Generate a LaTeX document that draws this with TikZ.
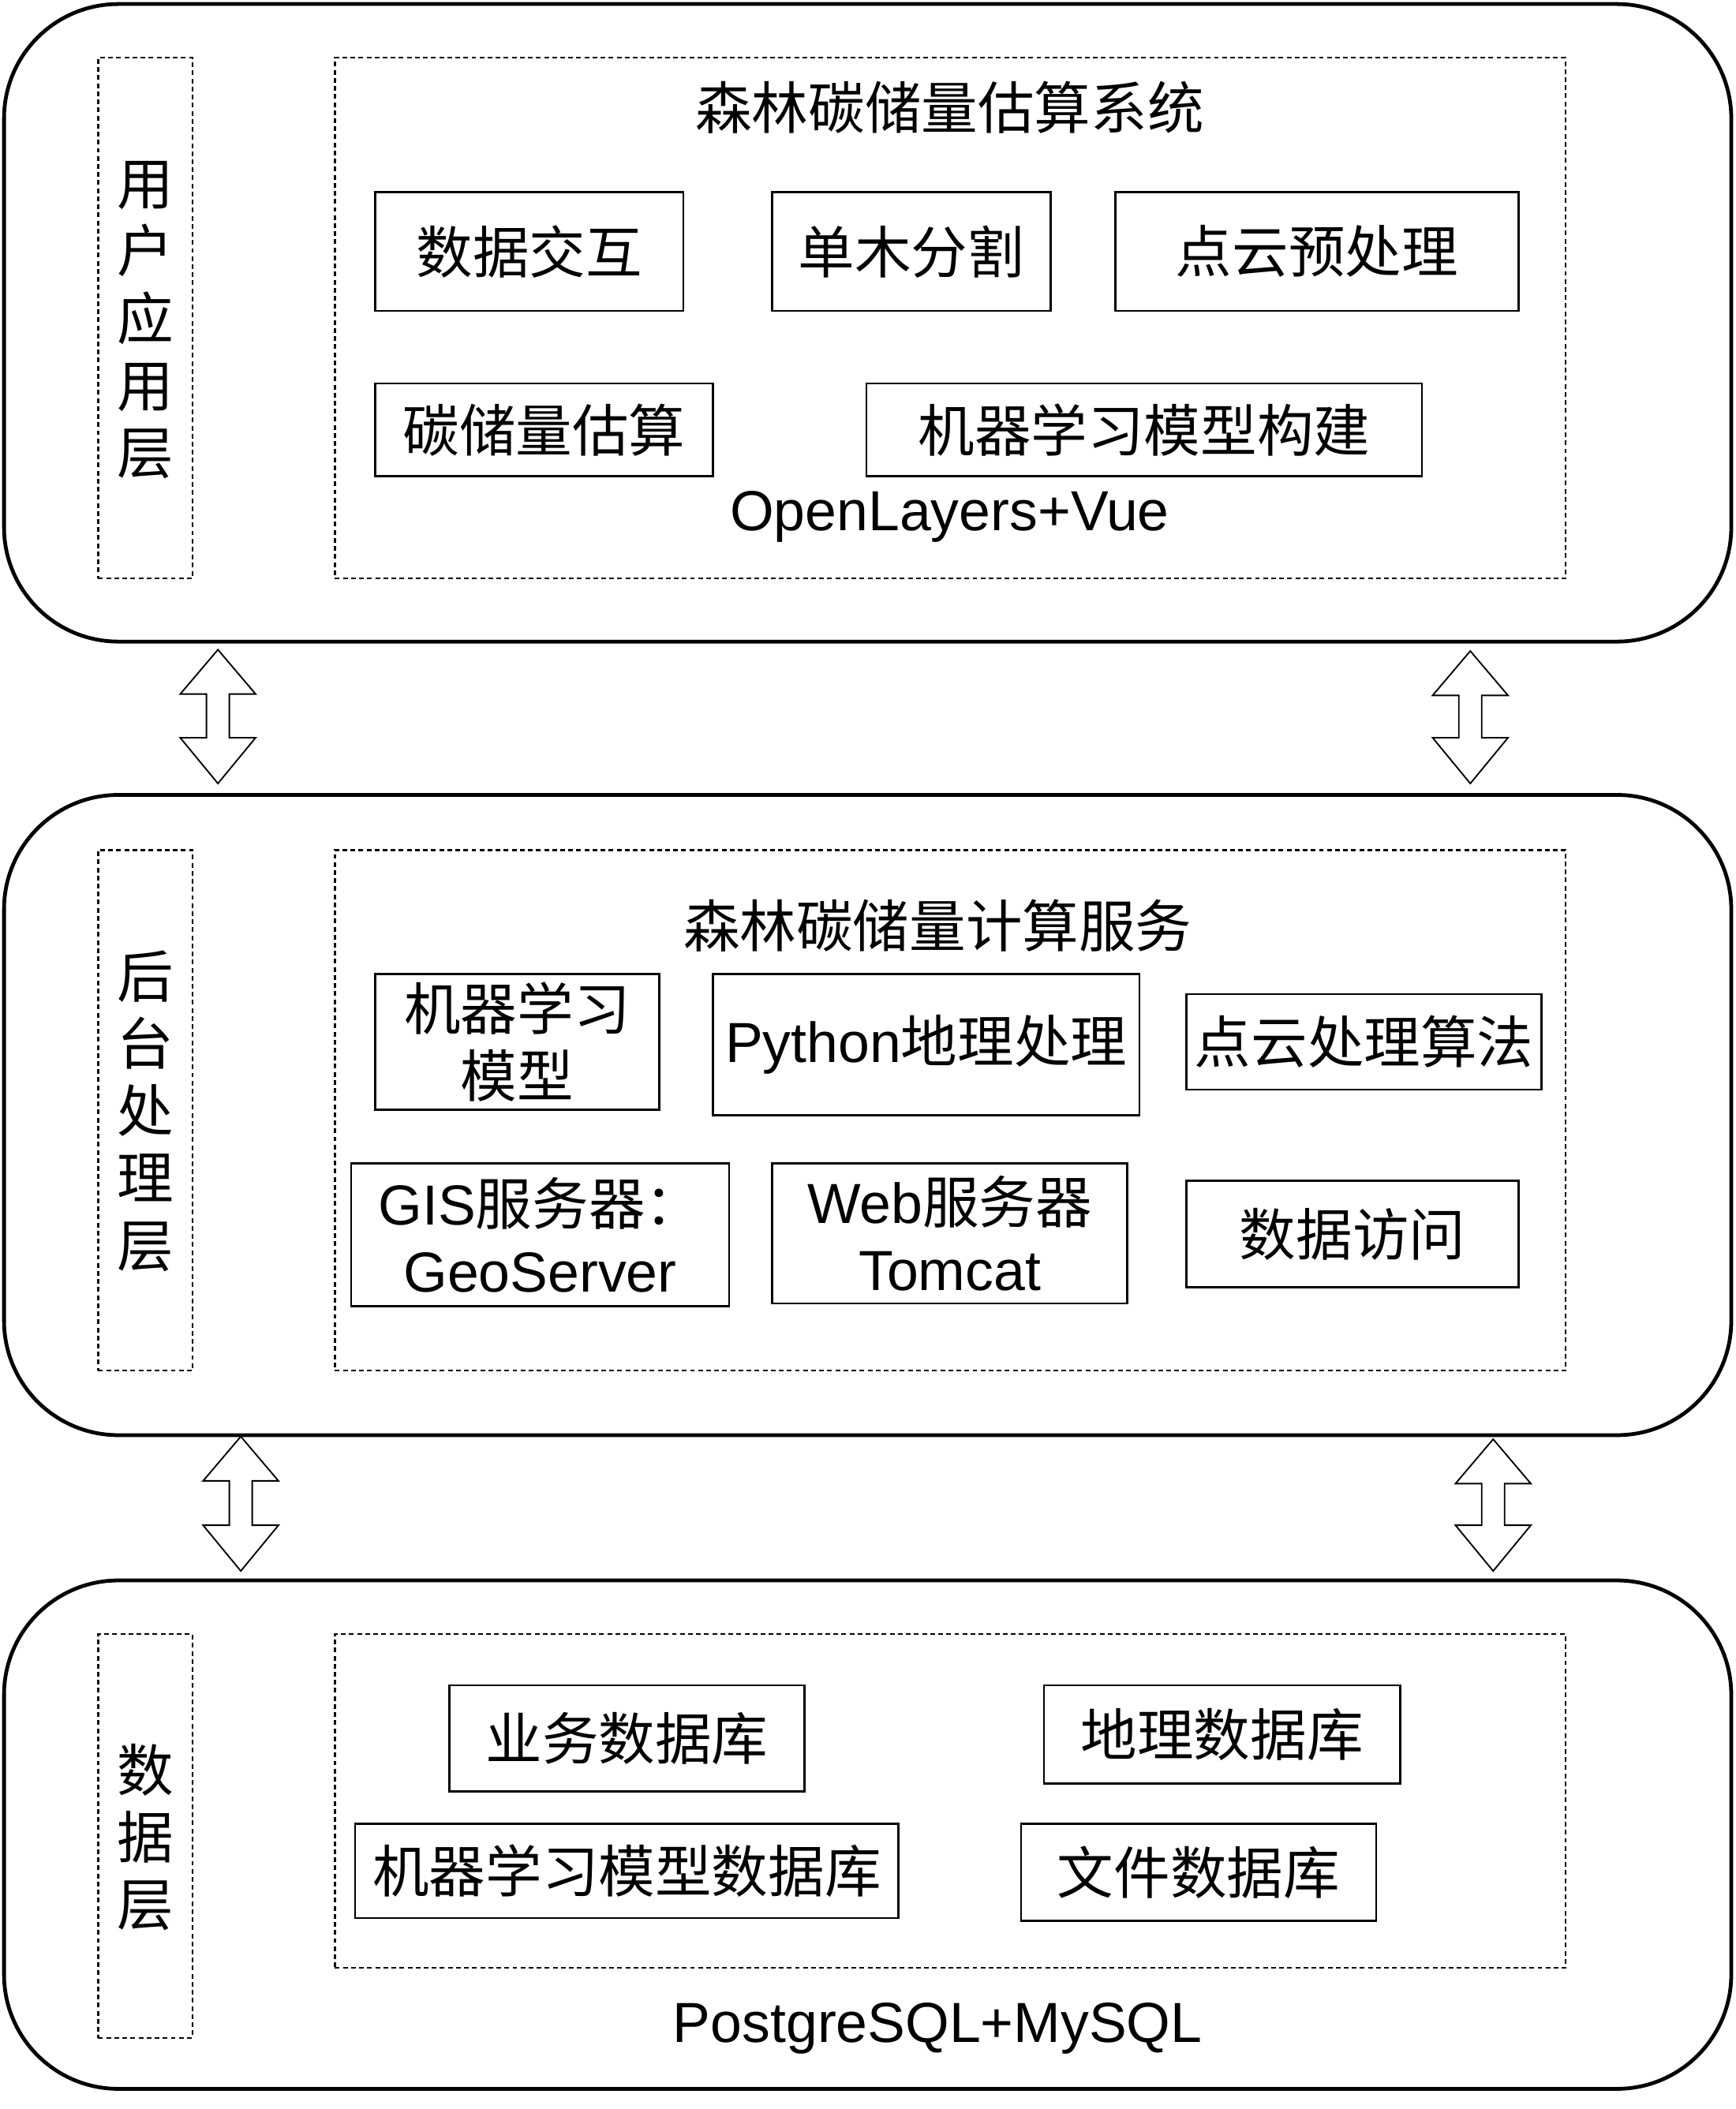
\documentclass[tikz,border=0pt]{standalone}
\usepackage{fontspec}
\setmainfont{Noto Sans CJK SC}
\newfontfamily\lat{Liberation Sans}
\begin{document}
\begin{tikzpicture}[x=1pt,y=-1pt,
  layer/.style={draw, line width=2.8pt, rounded corners=85pt, inner sep=0},
  dbox/.style={draw, dash pattern=on 3.5pt off 2.5pt, line width=1.3pt, inner sep=0},
  box/.style={draw, line width=1.5pt, inner sep=0, align=center, font=\fontsize{42}{50}\selectfont},
  txt/.style={inner sep=0, align=center, font=\fontsize{42}{50}\selectfont},
  harrow/.style={draw, line width=1.1pt, fill=white, line join=miter}]
\useasboundingbox (0,0) rectangle (1290,1568);
\newcommand\dblarrow[3]{%
  \draw[harrow] (#1,#2) -- (#1+28,#2+33) -- (#1+8.5,#2+33) -- (#1+8.5,#3-34) -- (#1+28,#3-34) -- (#1,#3)
   -- (#1-28,#3-34) -- (#1-8.5,#3-34) -- (#1-8.5,#2+33) -- (#1-28,#2+33) -- cycle;}

% ---------- layer 1
\node[layer, minimum width=1284, minimum height=474] (L1) at (645,240) {};
\node[dbox, minimum width=70, minimum height=387] (S1) at (108,236.5) {};
\node[txt] (S1t) at (108,238) {用\\户\\应\\用\\层};
\node[dbox, minimum width=915, minimum height=387] (I1) at (706.5,236.5) {};
\node[txt] (T1) at (706,80) {森林碳储量估算系统};
\node[box, minimum width=229, minimum height=88] (a1) at (393.5,187) {数据交互};
\node[box, minimum width=207, minimum height=88] (a2) at (677.5,187) {单木分割};
\node[box, minimum width=300, minimum height=88] (a3) at (979,187) {点云预处理};
\node[box, minimum width=251, minimum height=69] (a4) at (404.5,319.5) {碳储量估算};
\node[box, minimum width=413, minimum height=69] (a5) at (850.5,319.5) {机器学习模型构建};
\node[txt] (F1) at (706,384) {\lat OpenLayers+Vue};

% ---------- layer 2
\node[layer, minimum width=1284, minimum height=476] (L2) at (645,829) {};
\node[dbox, minimum width=70, minimum height=387] (S2) at (108,825.5) {};
\node[txt] (S2t) at (108,826) {后\\台\\处\\理\\层};
\node[dbox, minimum width=915, minimum height=387] (I2) at (706.5,825.5) {};
\node[txt] (T2) at (697,688) {森林碳储量计算服务};
\node[box, minimum width=211, minimum height=101] (b1) at (384.5,774.5) {机器学习\\模型};
\node[box, minimum width=317, minimum height=105] (b2) at (688.5,776.5) {{\lat Python}地理处理};
\node[box, minimum width=264, minimum height=71] (b3) at (1014,774.5) {点云处理算法};
\node[box, minimum width=281, minimum height=106] (b4) at (401.5,918) {{\lat GIS}服务器：\\{\lat GeoServer}};
\node[box, minimum width=264, minimum height=104] (b5) at (706,917) {{\lat Web}服务器\\{\lat Tomcat}};
\node[box, minimum width=247, minimum height=79] (b6) at (1005.5,917.5) {数据访问};

% ---------- layer 3
\node[layer, minimum width=1284, minimum height=378] (L3) at (645,1364) {};
\node[dbox, minimum width=70, minimum height=300] (S3) at (108,1365) {};
\node[txt] (S3t) at (108,1366) {数\\据\\层};
\node[dbox, minimum width=915, minimum height=248] (I3) at (706.5,1339) {};
\node[box, minimum width=264, minimum height=79] (c1) at (466,1292.5) {业务数据库};
\node[box, minimum width=265, minimum height=73] (c2) at (908.5,1289.5) {地理数据库};
\node[box, minimum width=404, minimum height=70] (c3) at (466,1391) {机器学习模型数据库};
\node[box, minimum width=264, minimum height=72] (c4) at (891,1392) {文件数据库};
\node[txt] (F3) at (697,1508) {\lat PostgreSQL+MySQL};

% ---------- arrows between layers
\coordinate (p1) at (162,483);
\coordinate (p2) at (1093,484);
\coordinate (p3) at (179,1068);
\coordinate (p4) at (1110,1070);
\dblarrow{162}{483}{582.5}
\dblarrow{1093}{484}{582.5}
\dblarrow{179}{1068}{1168}
\dblarrow{1110}{1070}{1168}
\end{tikzpicture}
\end{document}
